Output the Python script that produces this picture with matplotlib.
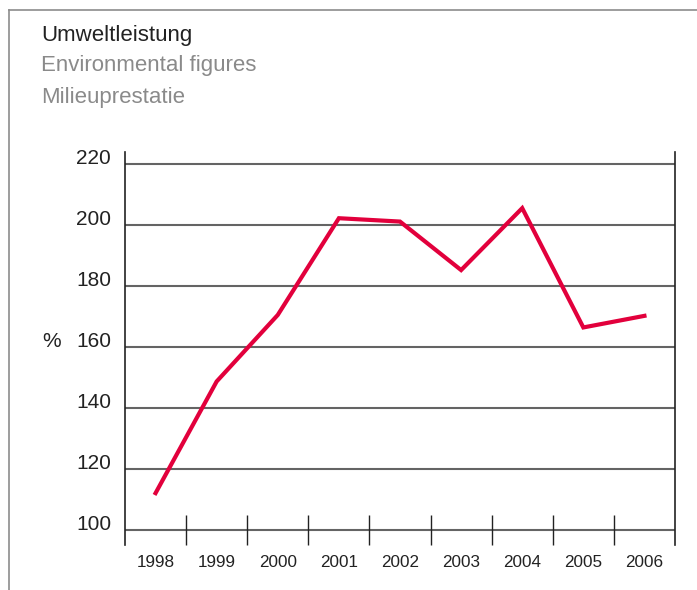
import matplotlib
matplotlib.use('Agg')
import matplotlib.pyplot as plt
from matplotlib.lines import Line2D

# data (percent)
years = ['1998', '1999', '2000', '2001', '2002', '2003', '2004', '2005', '2006']
values = [112.1, 148.7, 170.5, 202.2, 201.1, 185.2, 205.5, 166.4, 170.2]
yticks = [100, 120, 140, 160, 180, 200, 220]
titles = ['Umweltleistung', 'Environmental figures', 'Milieuprestatie']

plt.rcParams['font.family'] = ['Liberation Sans', 'DejaVu Sans']

W, H = 697, 590
fig = plt.figure(figsize=(W / 100, H / 100), dpi=100)
ax = fig.add_axes([125 / W, 1 - 545 / H, 550 / W, 393 / H])

x = list(range(len(years)))
ax.plot(x, values, color='#e2003c', lw=3, solid_joinstyle='miter', zorder=3)

ax.set_xlim(-0.5, len(years) - 0.5)
ax.set_ylim(95.1, 223.9)

# horizontal grid lines
for v in yticks:
    ax.axhline(v, color='#646464', lw=1.5, zorder=1)

for s in ['top', 'bottom']:
    ax.spines[s].set_visible(False)
for s in ['left', 'right']:
    ax.spines[s].set_linewidth(1.2)
    ax.spines[s].set_color('#222222')

ax.set_xticks(x)
ax.set_xticklabels(years, fontsize=12.3, color='#222222')
ax.set_xticks([i + 0.5 for i in x[:-1]], minor=True)
ax.tick_params(axis='x', which='major', length=0, pad=7)
ax.tick_params(axis='x', which='minor', direction='in', length=21.6,
               width=1.0, color='#222222')

ax.set_yticks(yticks)
ax.set_yticklabels([str(v) for v in yticks], fontsize=15, color='#222222')
ax.tick_params(axis='y', length=0, pad=10)
for lab in ax.get_yticklabels():
    lab.set_va('baseline')

fig.text(42 / W, 1 - 347 / H, '%', fontsize=15, color='#222222',
         ha='left', va='baseline')

# header text
ys = [35, 66, 97]
cols = ['#222222', '#8a8a8a', '#8a8a8a']
for t, yy, c in zip(titles, ys, cols):
    fig.text(41 / W, 1 - yy / H, t, fontsize=16, color=c, ha='left', va='center')

# frame lines (top and left)
fig.add_artist(Line2D([9 / W, 1], [1 - 10 / H, 1 - 10 / H], color='#8c8c8c', lw=1.2))
fig.add_artist(Line2D([9 / W, 9 / W], [1 - 10 / H, 0], color='#8c8c8c', lw=1.2))

fig.savefig('out.png', dpi=100)
